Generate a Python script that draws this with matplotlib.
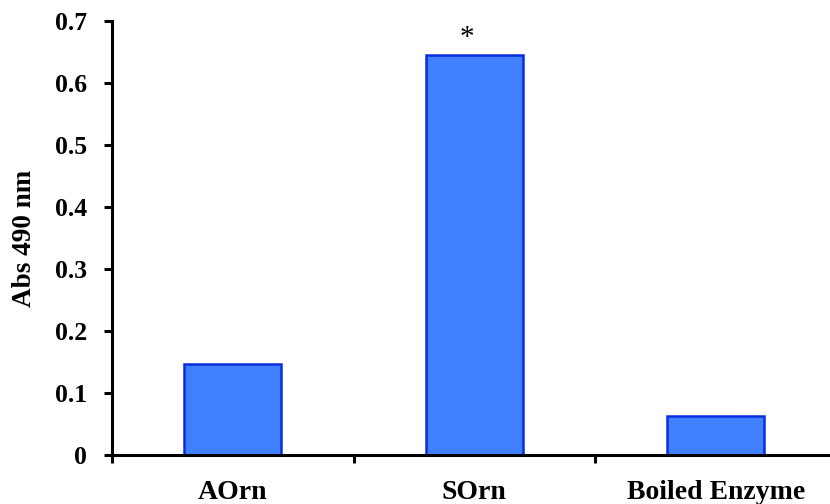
import numpy as np
import matplotlib
matplotlib.use("Agg")
import matplotlib.pyplot as plt

# data
categories = ["AOrn", "SOrn", "Boiled Enzyme"]
values = [0.147, 0.645, 0.063]
marks = ["", "*", ""]
y_ticks = [0, 0.1, 0.2, 0.3, 0.4, 0.5, 0.6, 0.7]

plt.rcParams["font.family"] = ["Liberation Serif", "DejaVu Serif"]
plt.rcParams["font.weight"] = "bold"

fig = plt.figure(figsize=(8.3, 5.04), dpi=100)
ax = fig.add_axes([112 / 830, 49 / 504, 724.5 / 830, 434 / 504])

x = np.arange(len(categories))
ax.bar(x, values, width=0.4, color="#4080FF", edgecolor="#0A2DE0", linewidth=1.8, zorder=2)

# significance mark
for xi, v, m in zip(x, values, marks):
    if m:
        ax.text(xi - 0.03, v + 0.006, m, ha="center", va="bottom", fontsize=21, fontweight="normal")

ax.set_xlim(-0.5, len(categories) - 0.5)
ax.set_ylim(0, 0.7)
ax.set_yticks(y_ticks)
ax.set_yticklabels(["0"] + [f"{t:.1f}" for t in y_ticks[1:]], fontsize=18.5, fontweight="bold")

# ticks between categories, labels at the centres
ax.set_xticks(np.arange(-0.5, len(categories), 1.0))
ax.set_xticklabels([])
ax.set_xticks(x, minor=True)
ax.set_xticklabels(categories, minor=True, fontsize=20, fontweight="bold")
ax.tick_params(axis="x", which="minor", length=0, pad=18)
ax.tick_params(axis="x", which="major", direction="out", length=6, width=2.2)
ax.tick_params(axis="y", direction="out", length=6, width=2.2, pad=12)

ax.set_ylabel("Abs 490 nm", fontsize=19.5, fontweight="bold", labelpad=13)

for s in ["top", "right"]:
    ax.spines[s].set_visible(False)
for s in ["left", "bottom"]:
    ax.spines[s].set_linewidth(2.2)

fig.savefig("out.png", dpi=100)
